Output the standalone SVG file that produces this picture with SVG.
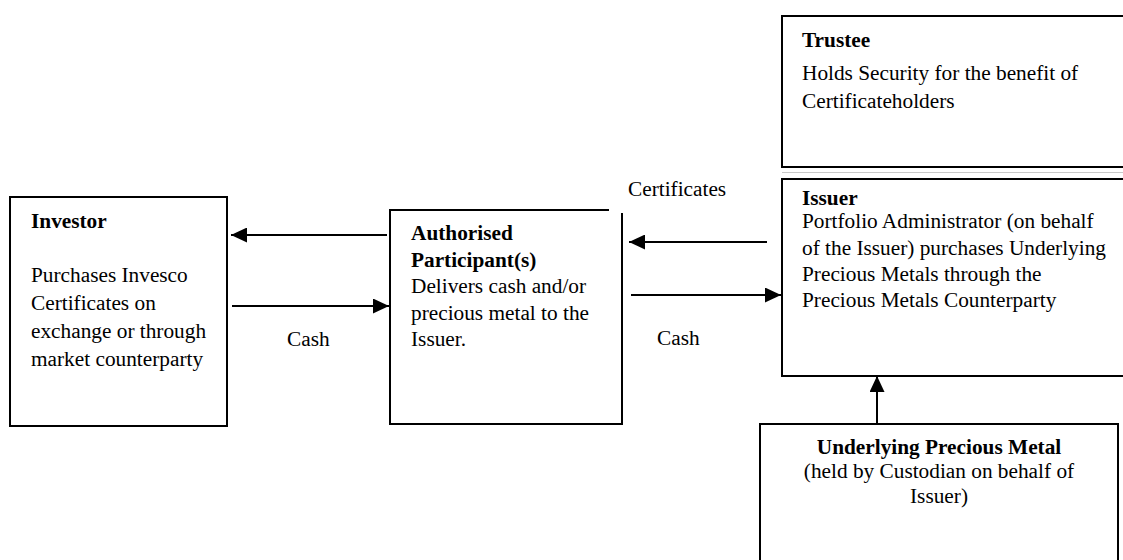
<svg xmlns="http://www.w3.org/2000/svg" width="1123" height="560" viewBox="0 0 1123 560">
<style>
text{font-family:"Liberation Serif","Times New Roman",serif;font-size:21.3px;fill:#000}
.b{font-weight:bold}
.box{fill:none;stroke:#000;stroke-width:2}
.arr{fill:none;stroke:#000;stroke-width:2;marker-end:url(#ah)}
</style>
<defs>
<marker id="ah" markerUnits="userSpaceOnUse" markerWidth="16" markerHeight="15" refX="16" refY="7.5" orient="auto">
<path d="M0,0 L16,7.5 L0,15 Z" fill="#000"/>
</marker>
</defs>
<rect width="1123" height="560" fill="#fff"/>
<g id="investor">
<rect class="box" x="10" y="197" width="217" height="229"/>
<text class="b" x="31" y="228">Investor</text>
<text x="31" y="282">Purchases Invesco</text>
<text x="31" y="310">Certificates on</text>
<text x="31" y="338">exchange or through</text>
<text x="31" y="366">market counterparty</text>
</g>
<g id="ap">
<path class="box" d="M609,210 H390 V424 H622 V213"/>
<text class="b" x="411" y="240">Authorised</text>
<text class="b" x="411" y="266.5">Participant(s)</text>
<text x="411" y="293">Delivers cash and/or</text>
<text x="411" y="319.5">precious metal to the</text>
<text x="411" y="346">Issuer.</text>
</g>
<g id="trustee">
<path class="box" d="M1124,16 H782 V167 H1124"/>
<text class="b" x="802" y="47">Trustee</text>
<text x="802" y="80">Holds Security for the benefit of</text>
<text x="802" y="108">Certificateholders</text>
</g>
<line x1="782" y1="172.5" x2="1123" y2="172.5" stroke="#c8c8c8" stroke-width="1"/>
<g id="issuer">
<path class="box" d="M1124,179 H782 V376 H1124"/>
<text class="b" x="802" y="205">Issuer</text>
<text x="802" y="228">Portfolio Administrator (on behalf</text>
<text x="802" y="254.5">of the Issuer) purchases Underlying</text>
<text x="802" y="281">Precious Metals through the</text>
<text x="802" y="307">Precious Metals Counterparty</text>
</g>
<g id="underlying">
<path class="box" d="M760,562 V424 H1118 V562"/>
<text class="b" x="939" y="454" text-anchor="middle">Underlying Precious Metal</text>
<text x="939" y="478" text-anchor="middle">(held by Custodian on behalf of</text>
<text x="939" y="503" text-anchor="middle">Issuer)</text>
</g>
<g id="connectors">
<line class="arr" x1="387" y1="235" x2="231" y2="235"/>
<line class="arr" x1="232" y1="306" x2="389" y2="306"/>
<line class="arr" x1="767" y1="242" x2="629" y2="242"/>
<line class="arr" x1="631" y1="295" x2="781" y2="295"/>
<line class="arr" x1="877" y1="424" x2="877" y2="376"/>
<text x="628" y="196">Certificates</text>
<text x="287" y="346">Cash</text>
<text x="657" y="345">Cash</text>
</g>
</svg>
